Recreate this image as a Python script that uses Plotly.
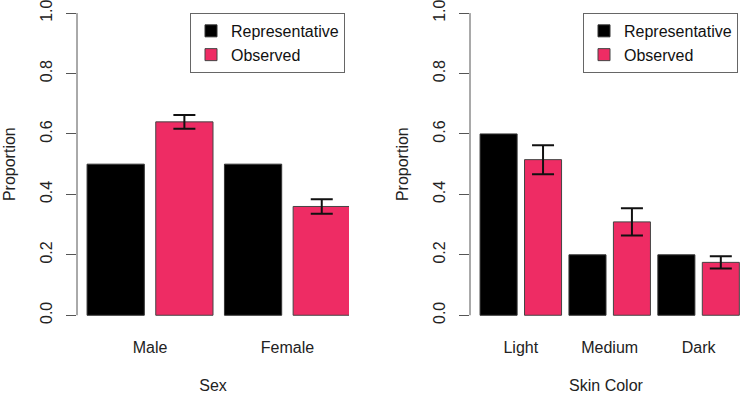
import plotly.graph_objects as go

# ---- data ----
sex_cats = ["Male", "Female"]
sex_rep = [0.5, 0.5]
sex_obs = [0.64, 0.36]
sex_err = [0.023, 0.024]

skin_cats = ["Light", "Medium", "Dark"]
skin_rep = [0.6, 0.2, 0.2]
skin_obs = [0.515, 0.309, 0.175]
skin_err = [0.048, 0.045, 0.02]

y_ticks = [0.0, 0.2, 0.4, 0.6, 0.8, 1.0]

BLACK = "#000000"
PINK = "#EE2C64"
AXC = "#555555"
FONT = "Liberation Sans, Arial, sans-serif"
W, H = 744, 394

# R barplot(beside=TRUE, space=0.2) positions: bar centers
def positions(ngroups):
    reps, obs, mids = [], [], []
    x = 0.2
    for g in range(ngroups):
        r = x + 0.5
        o = x + 1.2 + 0.5
        reps.append(r)
        obs.append(o)
        mids.append((r + o) / 2)
        x += 2.4
    return reps, obs, mids

fig = go.Figure()

panels = [
    (sex_cats, sex_rep, sex_obs, sex_err, "x", "y", "legend", "Sex", (77, 349)),
    (skin_cats, skin_rep, skin_obs, skin_err, "x2", "y2", "legend2", "Skin Color", (470, 742)),
]

for i, (cats, rep, obs, err, xa, ya, lg, title, px) in enumerate(panels):
    rx, ox, mids = positions(len(cats))
    fig.add_trace(go.Bar(x=rx, y=rep, width=1.0, name="Representative",
                         marker=dict(color=BLACK, line=dict(color="#333333", width=1)),
                         xaxis=xa, yaxis=ya, legend=lg))
    fig.add_trace(go.Bar(x=ox, y=obs, width=1.0, name="Observed",
                         marker=dict(color=PINK, line=dict(color="#444444", width=1)),
                         error_y=dict(type="data", array=err, visible=True,
                                      color="#111111", thickness=2, width=11),
                         xaxis=xa, yaxis=ya, legend=lg))
    n = len(cats)
    span = 2.4 * n - 0.2 - 0.2
    xr = [0.2 - 0.04 * span, 2.4 * n - 0.2 + 0.04 * span]
    sfx = "" if i == 0 else "2"
    fig.layout["xaxis" + sfx] = dict(
        domain=[px[0] / W, px[1] / W], range=xr, anchor="y" + sfx,
        tickvals=mids, ticktext=cats, ticks="outside", ticklen=5,
        tickcolor="rgba(0,0,0,0)", showline=False, showgrid=False, zeroline=False,
        tickfont=dict(family=FONT, size=16, color="#222222"),
        title=dict(text=title, font=dict(family=FONT, size=16, color="#222222"), standoff=27),
        fixedrange=True,
    )
    fig.layout["yaxis" + sfx] = dict(
        domain=[1 - 328 / H, 1], range=[-0.04, 1.04], anchor="x" + sfx,
        tickvals=y_ticks, ticktext=["%.1f" % v for v in y_ticks],
        tickangle=-90, ticks="outside", ticklen=10, tickcolor=AXC, tickwidth=1,
        ticklabelstandoff=8, ticklabeloverflow="allow",
        showline=False, showgrid=False, zeroline=False,
        tickfont=dict(family=FONT, size=16, color="#222222"),
        title=dict(text="Proportion", font=dict(family=FONT, size=16, color="#222222"), standoff=17),
        fixedrange=True,
    )
    # y-axis line spanning 0..1 (R style)
    fig.add_shape(type="line", xref=("x" + sfx) + " domain", yref="y" + sfx,
                  x0=0, x1=0, y0=0, y1=1, line=dict(color=AXC, width=1))

legend_common = dict(
    bgcolor="white", bordercolor="#666666", borderwidth=1,
    font=dict(family=FONT, size=16, color="#111111"),
    xanchor="left", yanchor="top", tracegroupgap=0, itemwidth=30,
)
fig.update_layout(
    width=W, height=H,
    margin=dict(l=0, r=0, t=0, b=0),
    plot_bgcolor="white", paper_bgcolor="white",
    barmode="overlay", showlegend=True,
    legend=dict(x=190 / W, y=1 - 12 / H, **legend_common),
    legend2=dict(x=583 / W, y=1 - 12 / H, **legend_common),
)

fig.write_html("out.html", config={"displayModeBar": False})
